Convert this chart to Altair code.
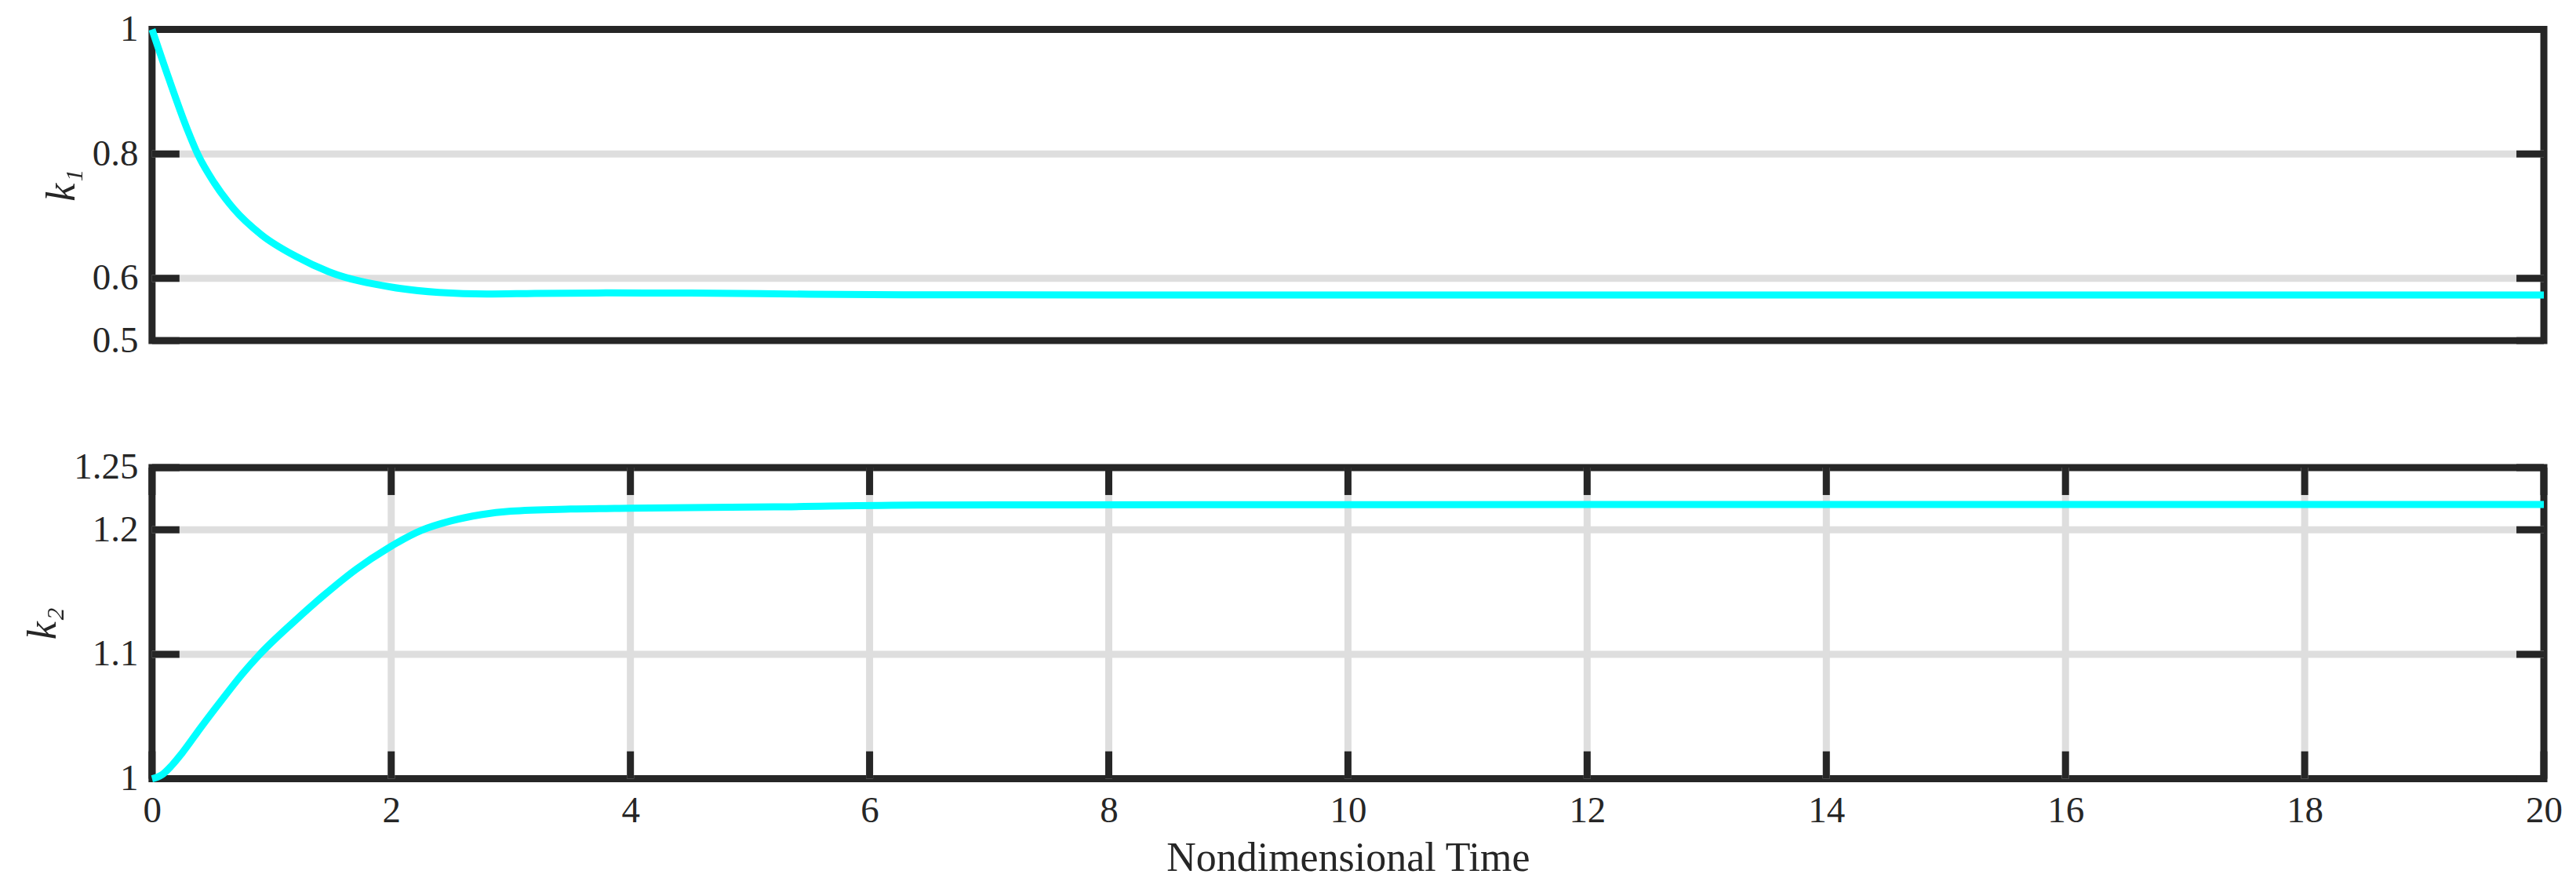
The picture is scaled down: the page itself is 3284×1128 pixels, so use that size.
import altair as alt
import pandas as pd

# ---- data ----
t1 = [0, 0.139, 0.298, 0.381, 0.519, 0.683, 0.916, 1.207, 1.48, 2.004,
      2.4, 2.8, 3.2, 3.8, 4.5, 5.5, 6.5, 8.0, 10.0, 12.0, 14.0, 16.0, 18.0, 20.0]
k1 = [1.0, 0.9217, 0.8378, 0.800, 0.7538, 0.7118, 0.6698, 0.635, 0.6105, 0.5859,
      0.5775, 0.5748, 0.5758, 0.5766, 0.5764, 0.5745, 0.5736, 0.5734, 0.5733, 0.5733,
      0.5733, 0.5733, 0.5733, 0.5733]

t2 = [0, 0.08, 0.163, 0.25, 0.414, 0.584, 0.753, 0.901, 1.189, 1.436, 1.709, 1.971, 2.25, 2.5,
      2.75, 3.0, 3.5, 4.0, 5.2, 6.4, 9.0, 12.0, 16.0, 20.0]
k2 = [1.0, 1.003, 1.0105, 1.0205, 1.0420, 1.0634, 1.0840, 1.100, 1.1264, 1.1474, 1.1685,
      1.1852, 1.1995, 1.2072, 1.2122, 1.2150, 1.2167, 1.2174, 1.2184, 1.2199, 1.2202,
      1.2203, 1.2203, 1.2203]

x_ticks = [0, 2, 4, 6, 8, 10, 12, 14, 16, 18, 20]
x_grid = [2, 4, 6, 8, 10, 12, 14, 16, 18]
y1_ticks = [0.5, 0.6, 0.8, 1.0]
y1_grid = [0.6, 0.8]
y2_ticks = [1.0, 1.1, 1.2, 1.25]
y2_grid = [1.1, 1.2]

W = 3052
H = 397
TICK = 35
DARK = "#262626"
GRID = "#dedede"
LW = 9


def panel(t, k, ytitle, ydom, yticks, ygrid, show_x):
    xs = alt.Scale(domain=[0, 20], nice=False, zero=False)
    ys = alt.Scale(domain=ydom, nice=False, zero=False)
    if show_x:
        xaxis = alt.Axis(values=x_ticks, format="~g", title="Nondimensional Time",
                         labelFlush=False, labelOverlap=False)
    else:
        xaxis = None
    yaxis = alt.Axis(values=yticks, format="~g", title=ytitle, labelFlush=False,
                     labelOverlap=False, titleFontStyle="italic")

    def X(f):
        return alt.X(f, scale=xs, axis=xaxis)

    def Y(f):
        return alt.Y(f, scale=ys, axis=yaxis)

    layers = []
    ydf = pd.DataFrame({"v": ygrid})
    layers.append(alt.Chart(ydf).mark_rule(color=GRID, strokeWidth=LW).encode(y=Y("v:Q")))
    if show_x:
        xdf = pd.DataFrame({"v": x_grid})
        layers.append(alt.Chart(xdf).mark_rule(color=GRID, strokeWidth=LW).encode(x=X("v:Q")))
        xt = pd.DataFrame({"v": x_ticks})
        layers.append(alt.Chart(xt).mark_rule(color=DARK, strokeWidth=LW).encode(
            x=X("v:Q"), y=alt.value(H - TICK), y2=alt.value(H)))
        layers.append(alt.Chart(xt).mark_rule(color=DARK, strokeWidth=LW).encode(
            x=X("v:Q"), y=alt.value(0), y2=alt.value(TICK)))
    yt = pd.DataFrame({"v": yticks})
    layers.append(alt.Chart(yt).mark_rule(color=DARK, strokeWidth=LW).encode(
        y=Y("v:Q"), x=alt.value(0), x2=alt.value(TICK)))
    layers.append(alt.Chart(yt).mark_rule(color=DARK, strokeWidth=LW).encode(
        y=Y("v:Q"), x=alt.value(W - TICK), x2=alt.value(W)))

    df = pd.DataFrame({"t": t, "k": k})
    layers.append(alt.Chart(df).mark_line(color="#00ffff", strokeWidth=LW,
                                          interpolate="monotone").encode(
        x=X("t:Q"), y=Y("k:Q")))
    return alt.layer(*layers).properties(width=W, height=H)


top = panel(t1, k1, "k\u2081", [0.5, 1.0], y1_ticks, y1_grid, False)
bottom = panel(t2, k2, "k\u2082", [1.0, 1.25], y2_ticks, y2_grid, True)

chart = alt.vconcat(top, bottom, spacing=162, bounds="flush").properties(
    padding={"left": 16, "top": 0, "right": 5, "bottom": 5}
).configure_view(
    stroke=DARK, strokeWidth=LW
).configure_axis(
    ticks=False, domain=False, grid=False,
    labelFont="Liberation Serif", labelFontSize=47, labelColor=DARK, labelPadding=18,
    titleFont="Liberation Serif", titleFontSize=52, titleColor=DARK, titleFontWeight="normal",
    titlePadding=12
)

chart.save("out.html", embed_options={"renderer": "svg", "actions": False})
